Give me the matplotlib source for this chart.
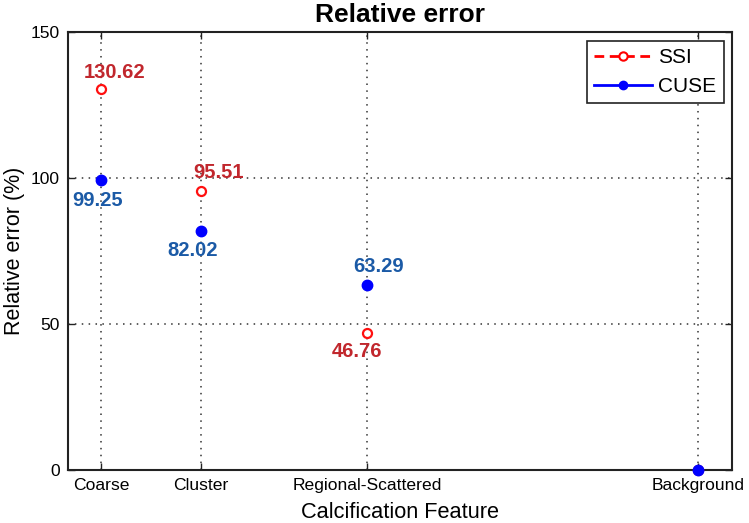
import matplotlib
matplotlib.use("Agg")
import matplotlib.pyplot as plt
from matplotlib.lines import Line2D

plt.rcParams['font.family'] = ['Liberation Sans', 'DejaVu Sans']

categories = ["Coarse", "Cluster", "Regional-Scattered", "Background"]
x_pos = [1.0, 2.0, 3.66, 6.97]
ssi = [130.62, 95.51, 46.76, 0.0]
cuse = [99.25, 82.02, 63.29, 0.0]
ssi_labels = ["130.62", "95.51", "46.76"]
cuse_labels = ["99.25", "82.02", "63.29"]
yticks = [0, 50, 100, 150]

fig = plt.figure(figsize=(7.49, 5.23), dpi=100)
ax = fig.add_axes([0.0908, 0.1013, 0.8862, 0.8375])

ax.plot(x_pos, ssi, linestyle='none', marker='o', markersize=6.5,
        markerfacecolor='white', markeredgecolor='#ff1010', markeredgewidth=1.6,
        clip_on=False, zorder=3)
ax.plot(x_pos, cuse, linestyle='none', marker='o', markersize=7.5,
        markerfacecolor='#0000ff', markeredgecolor='#0000ff',
        clip_on=False, zorder=4)

red_txt = '#c1272d'
blue_txt = '#1b5aa6'
ssi_off = [(14, 16), (18, 19), (-10, -18)]
cuse_off = [(-3, -20), (-8, -20), (12, 19)]
for i in range(3):
    ax.annotate(ssi_labels[i], (x_pos[i], ssi[i]), xytext=ssi_off[i],
                textcoords='offset pixels', ha='center', va='center',
                fontsize=14.5, fontweight='bold', color=red_txt, zorder=5)
    ax.annotate(cuse_labels[i], (x_pos[i], cuse[i]), xytext=cuse_off[i],
                textcoords='offset pixels', ha='center', va='center',
                fontsize=14.5, fontweight='bold', color=blue_txt, zorder=5)

ax.set_xlim(0.67, 7.31)
ax.set_ylim(0, 150)
ax.set_xticks(x_pos)
ax.set_xticklabels(categories, fontsize=12.6)
ax.set_yticks(yticks)
ax.set_yticklabels([str(v) for v in yticks], fontsize=12.6)
ax.tick_params(direction='in', length=5, width=1, top=True, right=True,
               colors='#222222', labelcolor='black', pad=6)
ax.grid(True, linestyle=(0, (1, 3.5)), color='#333333', linewidth=1.1)
for s in ax.spines.values():
    s.set_linewidth(1.5)
    s.set_color('#222222')

ax.set_title("Relative error", fontsize=19, fontweight='bold', pad=7)
ax.set_xlabel("Calcification Feature", fontsize=15.7, labelpad=6)
ax.set_ylabel("Relative error (%)", fontsize=15.5, labelpad=4)

handles = [
    Line2D([], [], color='#ff0000', linestyle=(0, (3.5, 2)), linewidth=2,
           marker='o', markersize=6, markerfacecolor='white',
           markeredgecolor='#ff0000', markeredgewidth=1.5),
    Line2D([], [], color='#0000ff', linestyle='-', linewidth=2,
           marker='o', markersize=6, markerfacecolor='#0000ff',
           markeredgecolor='#0000ff'),
]
leg = ax.legend(handles, ["SSI", "CUSE"], loc='upper right', fontsize=15,
                frameon=True, fancybox=False, shadow=False, framealpha=1,
                edgecolor='#222222', borderpad=0.35, handlelength=2.8,
                handletextpad=0.3, labelspacing=0.45, borderaxespad=0,
                bbox_to_anchor=(0.988, 0.979))
leg.get_frame().set_linewidth(1.2)

fig.savefig("out.png", dpi=100, facecolor='white')
